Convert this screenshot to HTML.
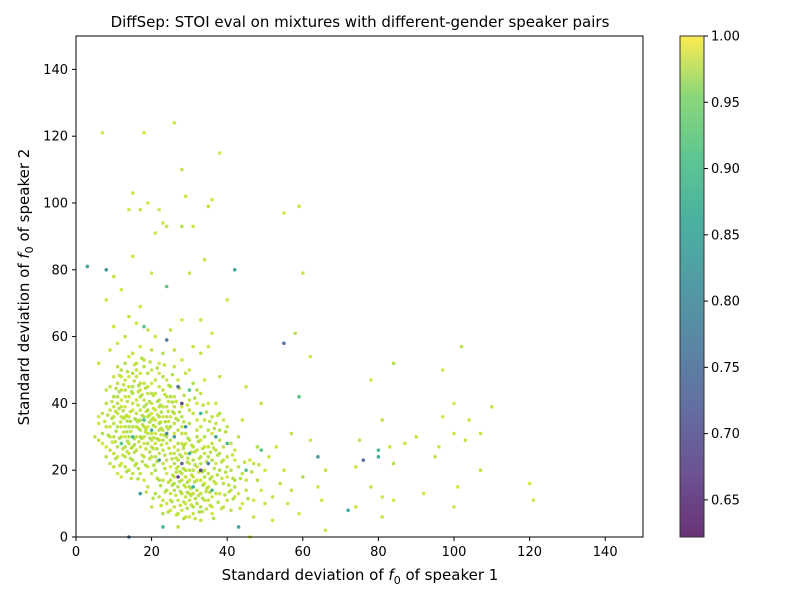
<!DOCTYPE html>
<html><head><meta charset="utf-8">
<style>
body{margin:0;background:#fff;}
svg text{font-family:"DejaVu Sans","Liberation Sans",sans-serif;fill:#000;}
</style></head>
<body>
<svg id="chart" width="800" height="600" xmlns="http://www.w3.org/2000/svg">
<rect width="800" height="600" fill="#fff"/>
<text x="360" y="27" font-size="15" text-anchor="middle">DiffSep: STOI eval on mixtures with different-gender speaker pairs</text>
<g id="points"></g>
<rect x="76" y="36" width="567" height="501" fill="none" stroke="#000" stroke-width="1"/>
<g id="xticks"></g>
<g id="yticks"></g>
<text x="360" y="580" font-size="15" text-anchor="middle">Standard deviation of <tspan font-style="italic">f</tspan><tspan font-size="11" dy="4">0</tspan><tspan dy="-4"> of speaker 1</tspan></text>
<text transform="translate(29,287) rotate(-90)" font-size="15" text-anchor="middle">Standard deviation of <tspan font-style="italic">f</tspan><tspan font-size="11" dy="4">0</tspan><tspan dy="-4"> of speaker 2</tspan></text>
<defs><linearGradient id="vir" x1="0" y1="1" x2="0" y2="0">
<stop offset="0" stop-color="#440154"/><stop offset="0.13" stop-color="#482878"/><stop offset="0.25" stop-color="#3e4989"/><stop offset="0.38" stop-color="#31688e"/><stop offset="0.5" stop-color="#26828e"/><stop offset="0.63" stop-color="#1f9e89"/><stop offset="0.75" stop-color="#35b779"/><stop offset="0.88" stop-color="#6ece58"/><stop offset="1" stop-color="#fde725"/></linearGradient></defs>
<rect x="680" y="36" width="24" height="501" fill="url(#vir)" opacity="0.8" stroke="#000" stroke-width="1"/>
<g id="cticks"></g>
</svg>
<script>
const xTicks=[0,20,40,60,80,100,120,140];
const yTicks=[0,20,40,60,80,100,120,140];
const cTicks=[0.65,0.70,0.75,0.80,0.85,0.90,0.95,1.00];
const cMin=0.622, cMax=1.0;
const outliers=[[3,81,0.82],[8,80,0.79],[42,80,0.82],[55,58,0.72],[27,45,0.72],[28,40,0.66],[24,59,0.75],[33,20,0.68],[76,23,0.72],[14,0,0.75],[43,3,0.82],[72,8,0.83],[64,24,0.8],[80,24,0.83],[17,13,0.8],[23,3,0.85],[26,30,0.8],[30,25,0.85],[29,33,0.78],[24,75,0.88],[18,63,0.88],[59,42,0.88],[28,22,0.7],[35,22,0.75],[27,18,0.66],[22,23,0.8],[20,32,0.84],[15,30,0.85],[37,30,0.82],[33,37,0.84],[12,28,0.88],[40,28,0.86],[45,20,0.88],[49,26,0.88],[24,31,0.78],[31,15,0.84],[36,14,0.86],[18,35,0.86],[30,44,0.88],[80,26,0.86]];
const sparse=[[7,121,0.97],[18,121,0.97],[26,124,0.97],[28,110,0.96],[38,115,0.97],[15,103,0.97],[19,100,0.97],[29,102,0.97],[36,101,0.97],[35,99,0.96],[14,98,0.97],[22,98,0.97],[17,98,0.96],[23,94,0.97],[24,93,0.96],[28,93,0.95],[31,93,0.97],[21,91,0.97],[34,83,0.96],[15,84,0.97],[10,78,0.96],[12,74,0.97],[8,71,0.97],[20,79,0.97],[30,79,0.96],[40,71,0.97],[60,79,0.97],[55,97,0.97],[59,99,0.97],[36,61,0.97],[33,65,0.96],[58,61,0.95],[62,54,0.97],[6,52,0.97],[84,52,0.95],[78,47,0.97],[97,50,0.97],[102,57,0.95],[100,40,0.97],[110,39,0.96],[104,35,0.97],[97,36,0.97],[90,30,0.96],[87,28,0.97],[81,35,0.96],[83,27,0.97],[75,29,0.96],[74,21,0.97],[78,15,0.96],[84,22,0.95],[84,11,0.97],[81,12,0.97],[81,6,0.97],[92,13,0.97],[95,24,0.96],[96,27,0.97],[100,31,0.97],[101,15,0.97],[103,29,0.96],[107,31,0.97],[107,20,0.96],[100,9,0.97],[120,16,0.97],[121,11,0.97],[74,9,0.97],[66,2,0.97],[66,20,0.96],[64,15,0.97],[65,11,0.97],[60,18,0.95],[62,29,0.97],[57,31,0.96],[55,20,0.97],[56,10,0.97],[57,14,0.96],[59,7,0.97],[50,20,0.97],[52,12,0.96],[48,27,0.95],[53,27,0.97],[49,40,0.96],[45,45,0.97],[44,35,0.97],[46,0,0.97],[47,22,0.96],[49,14,0.97],[44,10,0.97],[45,17,0.96],[42,23,0.97],[41,28,0.96],[39,35,0.97],[38,48,0.96],[37,40,0.97],[40,33,0.96],[34,47,0.97],[33,55,0.96],[35,57,0.97],[31,57,0.96],[28,65,0.97],[25,62,0.96],[21,60,0.97],[19,62,0.96],[16,64,0.97],[13,60,0.96],[11,58,0.97],[9,56,0.96],[10,63,0.97],[14,66,0.96],[17,69,0.97],[12,50,0.95],[8,44,0.96],[6,36,0.97],[5,30,0.96],[7,28,0.97],[9,22,0.96],[11,19,0.97],[13,24,0.96],[14,54,0.97],[18,53,0.96],[22,52,0.97],[26,51,0.96],[30,50,0.97],[20,9,0.96],[25,8,0.97],[27,3,0.96],[30,6,0.97],[33,5,0.96],[36,7,0.97],[39,9,0.96],[42,12,0.97],[47,6,0.96],[52,5,0.97],[54,16,0.96],[51,24,0.97],[43,30,0.96]];
const dense=[[10,30,0.96],[11,33,0.95],[12,36,0.96],[13,39,0.97],[14,42,0.96],[15,45,0.95],[16,48,0.96],[17,44,0.97],[18,41,0.96],[19,38,0.95],[20,35,0.96],[21,38,0.97],[22,41,0.95],[23,44,0.96],[24,47,0.97],[10,36,0.96],[11,40,0.95],[12,44,0.96],[13,47,0.97],[14,36,0.96],[15,33,0.95],[16,30,0.96],[17,27,0.97],[18,24,0.96],[19,28,0.95],[20,31,0.96],[21,28,0.97],[22,25,0.96],[23,29,0.95],[24,33,0.96],[25,36,0.97],[26,39,0.96],[27,35,0.95],[28,31,0.96],[29,28,0.97],[12,30,0.96],[13,27,0.95],[14,25,0.96],[15,38,0.97],[16,35,0.96],[17,32,0.95],[18,30,0.96],[19,33,0.97],[20,27,0.96],[21,24,0.95],[22,32,0.96],[23,36,0.97],[24,39,0.96],[25,42,0.95],[26,34,0.96],[9,33,0.97],[9,38,0.96],[10,42,0.95],[11,46,0.96],[12,48,0.97],[13,33,0.96],[14,30,0.95],[15,27,0.96],[16,41,0.97],[17,38,0.96],[18,36,0.95],[19,43,0.96],[20,46,0.97],[21,43,0.96],[22,36,0.95],[23,32,0.96],[24,28,0.97],[25,25,0.96],[26,22,0.95],[27,26,0.96],[28,28,0.97],[29,31,0.96],[30,34,0.95],[31,37,0.96],[32,40,0.97],[33,33,0.96],[34,30,0.95],[35,27,0.96],[36,31,0.97],[37,34,0.96],[38,37,0.95],[12,39,0.96],[13,42,0.97],[14,45,0.96],[15,49,0.95],[16,52,0.96],[17,49,0.97],[18,46,0.96],[19,49,0.95],[20,40,0.96],[21,33,0.97],[22,29,0.96],[11,27,0.95],[10,25,0.96],[12,22,0.97],[14,20,0.96],[16,22,0.95],[17,19,0.96],[19,21,0.97],[20,24,0.96],[21,20,0.95],[23,22,0.96],[24,19,0.97],[25,17,0.96],[26,14,0.95],[27,11,0.96],[28,8,0.97],[29,12,0.96],[30,15,0.95],[31,18,0.96],[32,21,0.97],[33,24,0.96],[34,18,0.95],[35,15,0.96],[36,12,0.97],[37,16,0.96],[38,20,0.95],[39,23,0.96],[40,18,0.97],[41,14,0.96],[42,17,0.95],[43,21,0.96],[26,18,0.97],[27,21,0.96],[28,24,0.95],[29,20,0.96],[30,17,0.97],[31,13,0.96],[32,10,0.95],[33,13,0.96],[34,16,0.97],[35,19,0.96],[36,23,0.95],[37,26,0.96],[25,21,0.97],[26,25,0.96],[27,28,0.95],[28,17,0.96],[29,15,0.97],[30,11,0.96],[31,9,0.95],[32,14,0.96],[33,17,0.97],[34,20,0.96],[35,24,0.95],[28,13,0.96],[29,10,0.97],[30,20,0.96],[31,23,0.95],[32,26,0.96],[33,29,0.97],[34,25,0.96],[24,14,0.95],[23,17,0.96],[25,11,0.97],[26,9,0.96],[27,15,0.95],[29,18,0.96],[30,22,0.97],[31,27,0.96],[32,30,0.95],[27,7,0.96],[29,6,0.97],[31,7,0.96],[33,9,0.95],[35,11,0.96],[38,13,0.97],[40,11,0.96],[42,15,0.95],[44,19,0.96],[46,23,0.97],[39,27,0.96],[41,20,0.95],[36,18,0.96],[37,22,0.97],[38,29,0.96],[35,32,0.95],[34,35,0.96],[32,35,0.97],[30,38,0.96],[28,36,0.95],[26,42,0.96],[27,47,0.97],[25,45,0.96],[23,48,0.95],[21,47,0.96],[19,45,0.97],[17,46,0.96],[15,43,0.95],[13,36,0.96],[12,33,0.97],[11,37,0.96],[10,34,0.95],[9,30,0.96],[8,27,0.97],[8,33,0.96],[7,31,0.95],[9,26,0.96],[11,24,0.97],[13,21,0.96],[15,23,0.95],[15,19,0.96],[18,17,0.97],[20,19,0.96],[22,17,0.95],[24,23,0.96],[26,27,0.97],[28,33,0.96],[30,29,0.95],[32,32,0.96],[34,27,0.97],[36,28,0.96],[38,25,0.95],[40,24,0.96],[42,26,0.97],[16,37,0.96],[18,39,0.95],[20,43,0.96],[22,45,0.97],[24,42,0.96],[14,33,0.95],[16,26,0.96],[18,28,0.97],[20,29,0.96],[22,34,0.95],[24,36,0.96],[26,31,0.97],[16,33,0.96],[17,35,0.95],[19,36,0.96],[21,31,0.97],[23,26,0.96],[25,29,0.95],[27,32,0.96],[13,30,0.97],[14,28,0.96],[17,30,0.95],[19,31,0.96],[21,35,0.97],[23,39,0.96],[25,33,0.95],[27,23,0.96],[29,25,0.97],[31,20,0.96],[33,22,0.95],[30,13,0.96],[32,17,0.97],[28,19,0.96],[26,16,0.95],[25,13,0.96],[24,10,0.97],[22,12,0.96],[23,7,0.95],[34,11,0.96],[36,9,0.97],[37,13,0.96],[39,16,0.95],[41,8,0.96],[43,13,0.97],[45,14,0.96],[48,17,0.95],[50,10,0.96],[47,11,0.97],[40,21,0.96],[38,32,0.95],[36,36,0.96],[35,40,0.97],[33,43,0.96],[31,46,0.95],[29,49,0.96],[28,53,0.97],[26,56,0.96],[23,55,0.95],[20,56,0.96],[17,57,0.97],[15,55,0.96],[13,52,0.95],[11,51,0.96],[10,48,0.97],[9,45,0.96],[8,40,0.95],[7,37,0.96],[6,34,0.97],[6,29,0.96],[8,24,0.95],[10,21,0.96],[12,18,0.97],[19,15,0.96],[21,13,0.95],[23,11,0.96],[14,48,0.97],[16,50,0.96],[18,51,0.95],[20,50,0.96],[22,49,0.97],[13,44,0.96],[11,42,0.95],[10,39,0.96],[12,41,0.97],[15,40,0.96],[17,42,0.95],[18,33,0.96],[20,37,0.97],[22,39,0.96],[24,30,0.95],[26,37,0.96],[28,39,0.97],[30,41,0.96],[32,44,0.95]];
const dense2=[[10.6,31.7,0.95],[11.8,34.4,0.96],[12.5,37.8,0.95],[13.6,40.6,0.96],[14.7,43.5,0.95],[15.4,46.7,0.96],[16.6,45.3,0.95],[17.5,42.6,0.96],[18.6,39.7,0.95],[19.4,36.5,0.96],[20.5,33.4,0.95],[21.6,36.6,0.96],[22.4,39.5,0.95],[23.5,42.7,0.96],[24.6,45.4,0.95],[10.4,28.5,0.96],[11.5,29.6,0.95],[12.6,31.4,0.96],[13.5,34.7,0.95],[14.4,37.5,0.96],[15.6,35.4,0.95],[16.5,32.6,0.96],[17.4,29.5,0.95],[18.5,26.4,0.96],[19.6,29.6,0.95],[20.4,26.5,0.96],[21.5,29.4,0.95],[22.6,27.6,0.96],[23.4,30.5,0.95],[24.5,34.6,0.96],[25.6,37.5,0.95],[26.5,40.6,0.96],[27.4,37.4,0.95],[28.5,34.5,0.96],[29.6,29.6,0.95],[12.4,26.4,0.96],[13.6,28.7,0.95],[14.5,31.6,0.96],[15.4,29.4,0.95],[16.6,28.5,0.96],[17.6,33.6,0.95],[18.4,31.5,0.96],[19.5,34.4,0.95],[20.6,29.7,0.96],[21.4,26.4,0.95],[22.5,30.6,0.96],[23.6,34.5,0.95],[24.4,37.6,0.96],[25.5,40.4,0.95],[26.4,35.5,0.96],[9.5,35.5,0.95],[10.5,37.6,0.96],[11.4,43.5,0.95],[12.6,45.6,0.96],[13.5,31.5,0.95],[14.6,26.6,0.96],[15.5,25.4,0.95],[16.4,39.5,0.96],[17.5,36.4,0.95],[18.6,37.6,0.96],[19.4,40.5,0.95],[20.5,42.4,0.96],[21.6,40.6,0.95],[22.4,34.4,0.96],[23.5,24.5,0.95],[24.6,26.6,0.96],[25.4,23.4,0.95],[26.6,20.5,0.96],[27.5,24.6,0.95],[28.4,26.5,0.96],[29.5,22.4,0.95],[30.6,18.6,0.96],[31.4,16.5,0.95],[32.5,19.4,0.96],[33.6,15.5,0.95],[34.4,13.6,0.96],[35.5,17.4,0.95],[36.6,20.5,0.96],[37.4,18.6,0.95],[38.5,22.5,0.96],[39.6,19.4,0.95],[40.4,15.5,0.96],[41.5,17.6,0.95],[26.4,12.5,0.96],[27.6,13.6,0.95],[28.5,10.5,0.96],[29.4,13.4,0.95],[30.5,9.6,0.96],[31.6,11.5,0.95],[32.4,12.4,0.96],[33.5,11.6,0.95],[34.6,14.5,0.96],[35.4,13.4,0.95],[36.5,16.6,0.96],[25.5,15.5,0.95],[26.5,19.4,0.96],[27.4,16.6,0.95],[28.6,15.5,0.96],[29.5,16.4,0.95],[30.4,14.5,0.96],[31.5,21.6,0.95],[32.6,23.5,0.96],[33.4,19.5,0.95],[34.5,22.6,0.96],[28.4,20.5,0.95],[29.6,23.6,0.96],[30.5,25.4,0.95],[31.4,25.5,0.96],[27.5,19.6,0.95],[24.5,16.4,0.96],[25.6,18.5,0.95],[26.5,23.6,0.96],[28.5,27.4,0.95],[30.6,27.5,0.96],[32.4,28.6,0.95],[33.5,26.5,0.96],[35.6,25.4,0.95],[36.4,26.6,0.96],[37.5,24.5,0.95],[38.6,17.5,0.96],[39.4,12.6,0.95],[40.5,13.5,0.96],[37.6,10.4,0.95],[35.5,9.5,0.96],[33.4,7.6,0.95],[31.5,5.5,0.96],[29.4,8.6,0.95],[27.6,9.5,0.96],[25.4,10.6,0.95],[23.6,13.5,0.96],[22.4,15.4,0.95],[21.5,17.6,0.96],[20.6,21.5,0.95],[19.5,23.4,0.96],[18.4,21.5,0.95],[17.6,22.6,0.96],[16.5,20.5,0.95],[15.6,21.4,0.96],[14.4,23.5,0.95],[13.5,25.6,0.96],[12.4,24.5,0.95],[11.6,21.4,0.96],[10.5,23.5,0.95],[9.6,28.4,0.96],[8.5,30.5,0.95],[7.6,34.6,0.96],[8.4,36.5,0.95],[9.5,40.6,0.96],[10.6,44.5,0.95],[11.5,48.4,0.96],[13.6,49.5,0.95],[15.5,51.6,0.96],[17.4,53.5,0.95],[19.6,52.4,0.96],[21.5,50.6,0.95],[23.4,51.5,0.96],[25.5,48.6,0.95],[27.4,44.5,0.96],[28.6,42.4,0.95],[29.5,39.5,0.96],[31.4,41.6,0.95],[33.6,39.5,0.96],[34.5,37.4,0.95],[35.4,34.6,0.96],[36.6,32.5,0.95],[37.5,36.4,0.96],[39.6,31.5,0.95],[41.4,24.6,0.96],[43.5,17.5,0.95],[44.6,22.4,0.96],[46.5,19.5,0.95],[48.4,21.6,0.96],[45.5,11.5,0.95],[43.4,8.6,0.96],[41.6,11.4,0.95],[38.5,8.5,0.96],[36.4,5.6,0.95],[34.5,8.4,0.96],[32.6,7.5,0.95],[30.4,12.4,0.96],[28.5,5.5,0.95],[26.6,6.6,0.96],[24.4,7.5,0.95],[22.5,9.4,0.96],[20.4,11.6,0.95],[18.6,13.5,0.96],[16.4,17.4,0.95],[14.6,17.5,0.96],[13.4,19.6,0.95],[12.6,35.5,0.96],[14.4,34.6,0.95],[16.5,43.5,0.96],[18.4,44.6,0.95],[20.5,38.5,0.96],[22.6,37.4,0.95],[24.5,40.6,0.96],[19.5,25.5,0.95],[21.4,22.6,0.96],[23.5,20.5,0.95],[17.5,24.5,0.96],[15.5,27.6,0.95],[13.4,36.4,0.96],[11.4,38.5,0.95],[18.5,32.4,0.96],[16.4,34.5,0.95],[20.4,35.6,0.96],[22.5,32.5,0.95],[24.4,32.4,0.96]];
const allPts=[...dense,...dense2,...sparse,...outliers];
const X0=76,X1=643,Y0=537,Y1=36;
const xs=v=>X0+(v/150)*(X1-X0);
const ys=v=>Y0-(v/150)*(Y0-Y1);
const cs=v=>537-(v-cMin)/(cMax-cMin)*501;
const vir=[[68,1,84],[72,40,120],[62,73,137],[49,104,142],[38,130,142],[31,158,137],[53,183,121],[110,206,88],[181,222,43],[253,231,37]];
function col(v){let t=Math.max(0,Math.min(1,(v-cMin)/(cMax-cMin)))*(vir.length-1);let i=Math.min(vir.length-2,Math.floor(t)),f=t-i;const a=vir[i],b=vir[i+1];return `rgb(${a.map((c,k)=>Math.round(c+(b[k]-c)*f)).join(',')})`;}
const NS='http://www.w3.org/2000/svg';
function mk(tag,attrs,parent){const e=document.createElementNS(NS,tag);for(const k in attrs)e.setAttribute(k,attrs[k]);parent.appendChild(e);return e;}
const gp=document.getElementById('points');
allPts.sort((a,b)=>b[2]-a[2]);
allPts.forEach(p=>{const c=mk('circle',{cx:xs(p[0]),cy:ys(p[1]),r:1.8,fill:col(p[2]),'fill-opacity':0.85},gp);

});
const gx=document.getElementById('xticks');
xTicks.forEach(t=>{const x=xs(t);const l=mk('line',{x1:x,x2:x,y1:537,y2:541,stroke:'#000'},gx);


const tx=mk('text',{x:x,y:556,'font-size':13,'text-anchor':'middle'},gx);tx.textContent=t;

});
const gy=document.getElementById('yticks');
yTicks.forEach(t=>{const y=ys(t);const l=mk('line',{x1:72,x2:76,y1:y,y2:y,stroke:'#000'},gy);


const tx=mk('text',{x:68,y:y+4.5,'font-size':13,'text-anchor':'end'},gy);tx.textContent=t;

});
const gc=document.getElementById('cticks');
cTicks.forEach(t=>{const y=cs(t);const l=mk('line',{x1:704,x2:708,y1:y,y2:y,stroke:'#000'},gc);


const tx=mk('text',{x:711,y:y+4.5,'font-size':13},gc);tx.textContent=t.toFixed(2);

});
</script>
</body></html>
